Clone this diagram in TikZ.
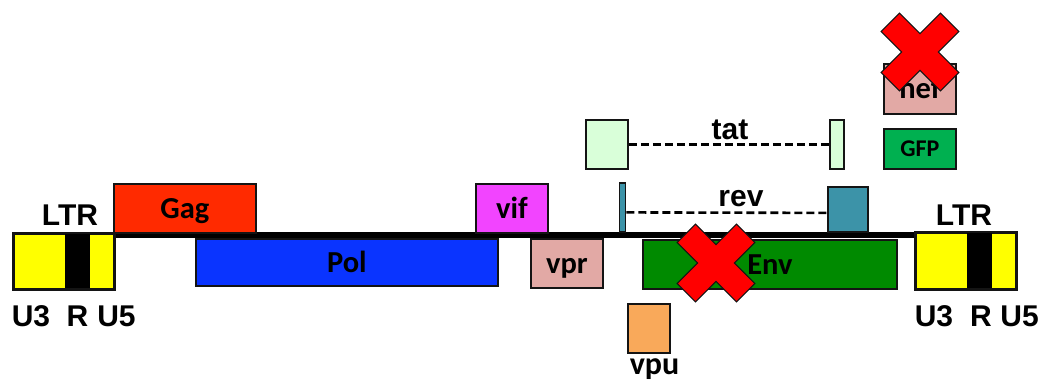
\documentclass[tikz,border=0pt]{standalone}
\usepackage{fontspec}
\newfontfamily\genefont{Carlito}
\newfontfamily\ltrfont{Liberation Sans}
\definecolor{ltryellow}{HTML}{FFFF00}
\definecolor{gagred}{HTML}{FF2A00}
\definecolor{polblue}{HTML}{0A34FF}
\definecolor{vifpink}{HTML}{F244FF}
\definecolor{rosy}{HTML}{E2A9A5}
\definecolor{revteal}{HTML}{3C93A8}
\definecolor{tatgreen}{HTML}{D9FFD9}
\definecolor{envgreen}{HTML}{008A00}
\definecolor{vpuorange}{HTML}{F9A95A}
\definecolor{gfpgreen}{HTML}{00B050}
\definecolor{crossred}{HTML}{FF0000}
\definecolor{edge}{HTML}{141414}
\tikzset{
  gbox/.style={draw=edge, line width=1.8pt, anchor=north west, inner sep=0pt,
    text height=19.4pt, text depth=0pt,
    font=\genefont\bfseries\fontsize{30.5}{33}\selectfont},
  band/.style={fill=black, draw=none, anchor=north west, inner sep=0pt},
  ltrtext/.style={font=\ltrfont\bfseries\fontsize{30}{32}\selectfont, inner sep=0pt},
  genetext/.style={font=\genefont\bfseries\fontsize{32}{34}\selectfont, inner sep=0pt},
  arialgene/.style={font=\ltrfont\bfseries\fontsize{30}{32}\selectfont, inner sep=0pt},
  genome/.style={line width=6pt, black},
  link/.style={line width=2.6pt, black, dash pattern=on 8pt off 4pt},
  knockout/.style={fill=crossred, draw=edge, line width=1pt, line join=miter},
  redx/.pic={
    \draw[knockout, rotate=45] (-13,42) -- (13,42) -- (13,13) -- (42,13) -- (42,-13)
      -- (13,-13) -- (13,-42) -- (-13,-42) -- (-13,-13) -- (-42,-13) -- (-42,13)
      -- (-13,13) -- cycle;
  }
}
\begin{document}
\begin{tikzpicture}[x=1pt,y=-1pt]
\useasboundingbox (0,0) rectangle (1046,380);

% proviral backbone
\coordinate (g0) at (113,235);
\coordinate (g1) at (915,235);
\draw[genome] (g0) -- (g1);

% left LTR
\node[gbox, fill=ltryellow, minimum width=100pt, minimum height=55pt] (ltrL) at (13,233) {};
\node[band, minimum width=25pt, minimum height=54pt] (bandL) at (65,233.5) {};
\draw[draw=edge, line width=1.8pt] (ltrL.north west) rectangle (ltrL.south east);
\node[ltrtext] (ltrLlab) at (70,215) {LTR};
\node[ltrtext] (u3L) at (31,316) {U3};
\node[ltrtext] (rL) at (77.5,316) {R};
\node[ltrtext] (u5L) at (116.5,316) {U5};

% right LTR
\node[gbox, fill=ltryellow, minimum width=100pt, minimum height=56pt] (ltrR) at (915,232) {};
\node[band, minimum width=25pt, minimum height=55pt] (bandR) at (967,232.5) {};
\draw[draw=edge, line width=1.8pt] (ltrR.north west) rectangle (ltrR.south east);
\node[ltrtext] (ltrRlab) at (964,215) {LTR};
\node[ltrtext] (u3R) at (934,316) {U3};
\node[ltrtext] (rR) at (981,316) {R};
\node[ltrtext] (u5R) at (1019.5,316) {U5};

% structural genes
\node[gbox, fill=gagred, minimum width=142pt, minimum height=49pt] (gag) at (113,183) {Gag};
\node[gbox, fill=polblue, minimum width=302pt, minimum height=47pt] (pol) at (195,238) {Pol};
\node[gbox, fill=envgreen, minimum width=254pt, minimum height=49pt] (env) at (642,239) {Env};

% accessory genes
\node[gbox, fill=vifpink, minimum width=72pt, minimum height=49pt] (vif) at (475,183) {vif};
\node[gbox, fill=rosy, minimum width=72pt, minimum height=49pt] (vpr) at (530,238) {vpr};
\node[gbox, fill=vpuorange, minimum width=42pt, minimum height=49pt] (vpu) at (627,303) {};
\node[genetext, anchor=base] (vpulab) at (654.5,374) {vpu};

% tat exons
\node[gbox, fill=tatgreen, minimum width=42pt, minimum height=49pt] (tatL) at (585,119) {};
\node[gbox, fill=tatgreen, minimum width=14pt, minimum height=49pt] (tatR) at (829,119) {};
\draw[link] (tatL.east) -- (tatR.west);
\node[arialgene] (tatlab) at (730,130) {tat};

% rev exons
\node[gbox, fill=revteal, minimum width=6pt, minimum height=49pt] (revL) at (618.5,182) {};
\node[gbox, fill=revteal, minimum width=40pt, minimum height=45pt] (revR) at (827,186) {};
\draw[link] ([yshift=-5pt]revL.east) -- ([yshift=-3.5pt]revR.west);
\node[arialgene] (revlab) at (741,198.5) {rev};

% nef replaced by GFP
\node[gbox, fill=rosy, minimum width=72pt, minimum height=50pt] (nef) at (883,63) {nef};
\node[gbox, fill=gfpgreen, minimum width=72pt, minimum height=40pt,
  text height=15.4pt, font=\genefont\bfseries\fontsize{24}{26}\selectfont] (gfp) at (883,128) {GFP};

% deletions
\pic (envx) at (716,263) {redx};
\pic (nefx) at (920,52) {redx};
\end{tikzpicture}
\end{document}
